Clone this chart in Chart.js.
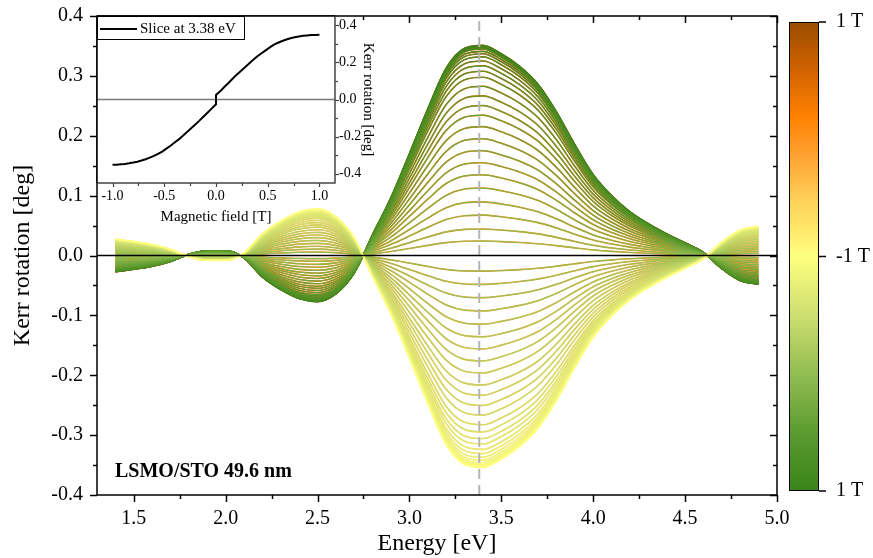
<!DOCTYPE html>
<html><head><meta charset="utf-8">
<script src="https://cdn.jsdelivr.net/npm/chart.js@4"></script>
<style>
html,body{margin:0;padding:0;background:#fff;}
#wrap{position:relative;width:873px;height:558px;overflow:hidden;}
#wrap canvas{position:absolute;left:0;top:0;}
</style></head><body>
<div id="wrap"><canvas id="main" width="873" height="558"></canvas><canvas id="inset" width="873" height="558"></canvas></div>
<script>
// ---------- data ----------
const energy = [1.4,1.5,1.6,1.7,1.8,1.9,2.0,2.1,2.2,2.3,2.4,2.5,2.6,2.7,2.8,2.9,3.0,3.1,3.2,3.3,3.4,3.5,3.6,3.7,3.8,3.9,4.0,4.1,4.2,4.3,4.4,4.5,4.6,4.7,4.8,4.9];
// Kerr spectrum at +1 T (deg)
const kerrAtPlus1T = [-0.027,-0.023,-0.018,-0.010,0.002,0.008,0.008,-0.004,-0.036,-0.057,-0.072,-0.077,-0.064,-0.029,0.035,0.097,0.170,0.245,0.313,0.346,0.351,0.337,0.316,0.286,0.240,0.185,0.135,0.100,0.073,0.053,0.036,0.021,0.005,-0.022,-0.042,-0.048];
// Inset: slice at 3.38 eV, Kerr rotation vs field
const sliceField = [-1.00,-0.96,-0.92,-0.88,-0.84,-0.80,-0.76,-0.72,-0.68,-0.64,-0.60,-0.56,-0.52,-0.48,-0.44,-0.40,-0.36,-0.32,-0.28,-0.24,-0.20,-0.16,-0.12,-0.08,-0.04,0.00,0.00,0.04,0.08,0.12,0.16,0.20,0.24,0.28,0.32,0.36,0.40,0.44,0.48,0.52,0.56,0.60,0.64,0.68,0.72,0.76,0.80,0.84,0.88,0.92,0.96,1.00];
const sliceKerr = [-0.352,-0.351,-0.349,-0.347,-0.344,-0.340,-0.335,-0.329,-0.322,-0.313,-0.304,-0.293,-0.281,-0.265,-0.249,-0.232,-0.215,-0.195,-0.175,-0.155,-0.135,-0.114,-0.092,-0.070,-0.048,-0.026,0.024,0.044,0.067,0.089,0.112,0.134,0.154,0.174,0.194,0.214,0.233,0.249,0.265,0.281,0.296,0.306,0.315,0.323,0.330,0.335,0.339,0.343,0.345,0.347,0.348,0.349];
const sliceEnergy = 3.38;
const sliceLabel = 'Slice at 3.38 eV';
const sampleLabel = 'LSMO/STO 49.6 nm';
const mainXTicks = [1.5,2.0,2.5,3.0,3.5,4.0,4.5,5.0];
const mainXMinor = [1.75,2.25,2.75,3.25,3.75,4.25,4.75];
const mainYTicks = [-0.4,-0.3,-0.2,-0.1,0.0,0.1,0.2,0.3,0.4];
const mainYMinor = [-0.35,-0.25,-0.15,-0.05,0.05,0.15,0.25,0.35];
const insetXTicks = [-1.0,-0.5,0.0,0.5,1.0];
const insetXMinor = [-0.75,-0.25,0.25,0.75];
const insetYTicks = [-0.4,-0.2,0.0,0.2,0.4];
const insetYMinor = [-0.3,-0.1,0.1,0.3];
const colorbarLabels = ['1 T','-1 T','1 T'];

// ---------- style ----------
const SERIF = "'Liberation Serif','DejaVu Serif',serif";
Chart.defaults.font.family = SERIF;
Chart.defaults.color = '#000';
const cmapStops = [[0,'#3a8419'],[0.12,'#5a9a2e'],[0.25,'#92bd52'],[0.38,'#cfe070'],[0.5,'#ffff80'],[0.62,'#ffd058'],[0.72,'#ffa030'],[0.8,'#ff8000'],[0.9,'#d06200'],[1,'#9a4c00']];
function hex(c){return [parseInt(c.slice(1,3),16),parseInt(c.slice(3,5),16),parseInt(c.slice(5,7),16)];}
function cmap(t){
  for(let i=1;i<cmapStops.length;i++){
    if(t<=cmapStops[i][0]){
      const [t0,c0]=cmapStops[i-1],[t1,c1]=cmapStops[i];
      const f=(t-t0)/(t1-t0),a=hex(c0),b=hex(c1);
      return 'rgb('+a.map((v,k)=>Math.round(v+(b[k]-v)*f)).join(',')+')';
    }
  }
  return cmapStops[cmapStops.length-1][1];
}

// ---------- main datasets ----------
const peak = sliceKerr[sliceKerr.length-1];
function curve(j){ return energy.map((e,i)=>({x:e,y:kerrAtPlus1T[i]*sliceKerr[j]/peak})); }
const bottomToTop = [];
// sweep -1 T -> +1 T (yellow -> orange -> brown)
for(let j=0;j<sliceField.length;j++){
  bottomToTop.push({data:curve(j),borderColor:cmap(0.5+(sliceField[j]+1)/4),borderWidth:1.6});
}
// sweep +1 T -> -1 T (green -> yellow)
for(let j=sliceField.length-1;j>=0;j--){
  bottomToTop.push({data:curve(j),borderColor:cmap((1-sliceField[j])/4),borderWidth:1.2});
}
bottomToTop.push({data:[{x:sliceEnergy,y:-0.4},{x:sliceEnergy,y:0.4}],borderColor:'#b4b4b4',borderWidth:2,borderDash:[10,6],tension:0,cubicInterpolationMode:'default'});
bottomToTop.push({data:[{x:1.3,y:0},{x:5.0,y:0}],borderColor:'#000',borderWidth:1.5,tension:0,cubicInterpolationMode:'default'});
const mainDatasets = bottomToTop.reverse();

function drawTickSet(ctx, scale, values, len, where){
  const a = scale.chart.chartArea;
  values.forEach(v=>{
    const p = Math.round(scale.getPixelForValue(v))+0.5;
    ctx.beginPath();
    if(where==='bottom'){ctx.moveTo(p,a.bottom);ctx.lineTo(p,a.bottom+len);}
    if(where==='topIn'){ctx.moveTo(p,a.top);ctx.lineTo(p,a.top+len);}
    if(where==='left'){ctx.moveTo(a.left-len,p);ctx.lineTo(a.left,p);}
    if(where==='rightIn'){ctx.moveTo(a.right-len,p);ctx.lineTo(a.right,p);}
    if(where==='right'){ctx.moveTo(a.right,p);ctx.lineTo(a.right+len,p);}
    ctx.stroke();
  });
}

const mainDeco = {
  id:'mainDeco',
  afterDraw(chart){
    const ctx=chart.ctx,a=chart.chartArea,x=chart.scales.x,y=chart.scales.y;
    ctx.save();
    ctx.strokeStyle='#000';ctx.lineWidth=1.5;
    ctx.strokeRect(a.left,a.top,a.right-a.left,a.bottom-a.top);
    ctx.lineWidth=1.5;
    drawTickSet(ctx,x,mainXTicks,7,'bottom');
    drawTickSet(ctx,x,mainXMinor,4,'bottom');
    drawTickSet(ctx,x,mainXTicks,7,'topIn');
    drawTickSet(ctx,x,mainXMinor,4,'topIn');
    drawTickSet(ctx,y,mainYTicks,7,'left');
    drawTickSet(ctx,y,mainYMinor,4,'left');
    drawTickSet(ctx,y,mainYTicks,7,'rightIn');
    drawTickSet(ctx,y,mainYMinor,4,'rightIn');
    // sample label
    ctx.fillStyle='#000';ctx.font='bold 20px '+SERIF;ctx.textBaseline='alphabetic';ctx.textAlign='left';
    ctx.fillText(sampleLabel,a.left+18,a.bottom-18);
    // colour bar
    const cx0=a.right+12,cx1=a.right+42,cy0=a.top+6,cy1=a.bottom-4;
    const g=ctx.createLinearGradient(0,cy1,0,cy0);
    cmapStops.forEach(s=>g.addColorStop(s[0],s[1]));
    ctx.fillStyle=g;ctx.fillRect(cx0,cy0,cx1-cx0,cy1-cy0);
    ctx.lineWidth=1;ctx.strokeStyle='#000';ctx.strokeRect(cx0+0.5,cy0+0.5,cx1-cx0-1,cy1-cy0-1);
    ctx.font='20px '+SERIF;ctx.textBaseline='middle';ctx.fillStyle='#000';
    const ys=[cy0,(cy0+cy1)/2,cy1];
    ctx.lineWidth=1.5;
    colorbarLabels.forEach((lab,i)=>{
      ctx.beginPath();ctx.moveTo(cx1,ys[i]);ctx.lineTo(cx1+7,ys[i]);ctx.stroke();
      ctx.fillText(lab,cx1+17,ys[i]);
    });
    ctx.restore();
  }
};

new Chart(document.getElementById('main'),{
  type:'line',
  data:{datasets:mainDatasets},
  options:{
    responsive:false,animation:false,devicePixelRatio:1,
    events:[],
    layout:{padding:{left:0,right:96,top:16,bottom:0}},
    elements:{point:{radius:0},line:{cubicInterpolationMode:'monotone',borderCapStyle:'butt'}},
    plugins:{legend:{display:false},tooltip:{enabled:false}},
    scales:{
      x:{type:'linear',min:1.3,max:5.0,
        grid:{display:false,drawTicks:false},border:{display:false},
        afterBuildTicks:s=>{s.ticks=mainXTicks.map(v=>({value:v}));},
        afterFit:s=>{s.height=63;s.paddingLeft=0;s.paddingRight=0;},
        ticks:{autoSkip:false,maxRotation:0,padding:12,font:{size:20},color:'#000',callback:v=>Number(v).toFixed(1)},
        title:{display:true,text:'Energy [eV]',font:{size:24},color:'#000',padding:{top:0,bottom:0}}
      },
      y:{type:'linear',min:-0.4,max:0.4,
        grid:{display:false,drawTicks:false},border:{display:false},
        afterBuildTicks:s=>{s.ticks=mainYTicks.map(v=>({value:v}));},
        afterFit:s=>{s.width=97;s.paddingTop=0;s.paddingBottom=0;},
        ticks:{autoSkip:false,padding:14,font:{size:20},color:'#000',callback:v=>Number(v).toFixed(1)},
        title:{display:true,text:'Kerr rotation [deg]',font:{size:24},color:'#000',padding:{top:8,bottom:0}}
      }
    }
  },
  plugins:[mainDeco]
});

// ---------- inset ----------
const insetDeco = {
  id:'insetDeco',
  beforeDatasetsDraw(chart){
    const ctx=chart.ctx,a=chart.chartArea;
    ctx.save();ctx.fillStyle='#fff';ctx.fillRect(a.left,a.top,a.right-a.left,a.bottom-a.top);ctx.restore();
  },
  afterDraw(chart){
    const ctx=chart.ctx,a=chart.chartArea,x=chart.scales.x,y=chart.scales.y;
    ctx.save();
    ctx.strokeStyle='#444';ctx.lineWidth=1.5;
    ctx.beginPath();ctx.moveTo(a.left,a.bottom);ctx.lineTo(a.right,a.bottom);ctx.lineTo(a.right,a.top);ctx.stroke();
    ctx.strokeStyle='#000';ctx.lineWidth=1.5;
    ctx.beginPath();ctx.moveTo(a.left,a.top);ctx.lineTo(a.right,a.top);ctx.moveTo(a.left,a.top);ctx.lineTo(a.left,a.bottom);ctx.stroke();
    ctx.strokeStyle='#444';ctx.lineWidth=1.2;
    drawTickSet(ctx,x,insetXTicks,4,'bottom');
    drawTickSet(ctx,x,insetXMinor,3,'bottom');
    drawTickSet(ctx,y,insetYTicks,4,'right');
    drawTickSet(ctx,y,insetYMinor,3,'right');
    // legend box
    const ds=chart.data.datasets[0];
    const bx=a.left,by=a.top,bw=148,bh=24;
    ctx.fillStyle='#fff';ctx.fillRect(bx,by,bw,bh);
    ctx.strokeStyle='#000';ctx.lineWidth=1;ctx.strokeRect(bx+0.5,by+0.5,bw-1,bh-1);
    ctx.strokeStyle=ds.borderColor;ctx.lineWidth=ds.borderWidth;
    ctx.beginPath();ctx.moveTo(bx+3,by+13);ctx.lineTo(bx+40,by+13);ctx.stroke();
    ctx.fillStyle='#000';ctx.font='15px '+SERIF;ctx.textBaseline='middle';ctx.textAlign='left';
    ctx.fillText(ds.label,bx+43,by+13);
    ctx.restore();
  }
};

new Chart(document.getElementById('inset'),{
  type:'line',
  data:{datasets:[
    {label:sliceLabel,data:sliceField.map((b,i)=>({x:b,y:sliceKerr[i]})),borderColor:'#000',borderWidth:2,tension:0},
    {label:'zero',data:[{x:-1.15,y:0},{x:1.15,y:0}],borderColor:'#7a7a7a',borderWidth:1.5,tension:0}
  ]},
  options:{
    responsive:false,animation:false,devicePixelRatio:1,
    events:[],
    layout:{padding:{left:97,right:493,top:16,bottom:330}},
    elements:{point:{radius:0}},
    plugins:{legend:{display:false},tooltip:{enabled:false}},
    scales:{
      x:{type:'linear',min:-1.15,max:1.15,
        grid:{display:false,drawTicks:false},border:{display:false},
        afterBuildTicks:s=>{s.ticks=insetXTicks.map(v=>({value:v}));},
        afterFit:s=>{s.height=45;s.paddingLeft=0;s.paddingRight=0;},
        ticks:{autoSkip:false,maxRotation:0,padding:5,font:{size:14},color:'#000',callback:v=>Number(v).toFixed(1)},
        title:{display:true,text:'Magnetic field [T]',font:{size:15},color:'#000',padding:{top:0,bottom:2}}
      },
      y:{type:'linear',position:'right',min:-0.45,max:0.45,
        grid:{display:false,drawTicks:false},border:{display:false},
        afterBuildTicks:s=>{s.ticks=insetYTicks.map(v=>({value:v}));},
        afterFit:s=>{s.width=45;s.paddingTop=0;s.paddingBottom=0;},
        ticks:{autoSkip:false,padding:4,font:{size:14},color:'#000',callback:v=>Number(v).toFixed(1)},
        title:{display:true,text:'Kerr rotation [deg]',font:{size:15},color:'#000',padding:{top:3,bottom:0}}
      }
    }
  },
  plugins:[insetDeco]
});
</script>
</body></html>
